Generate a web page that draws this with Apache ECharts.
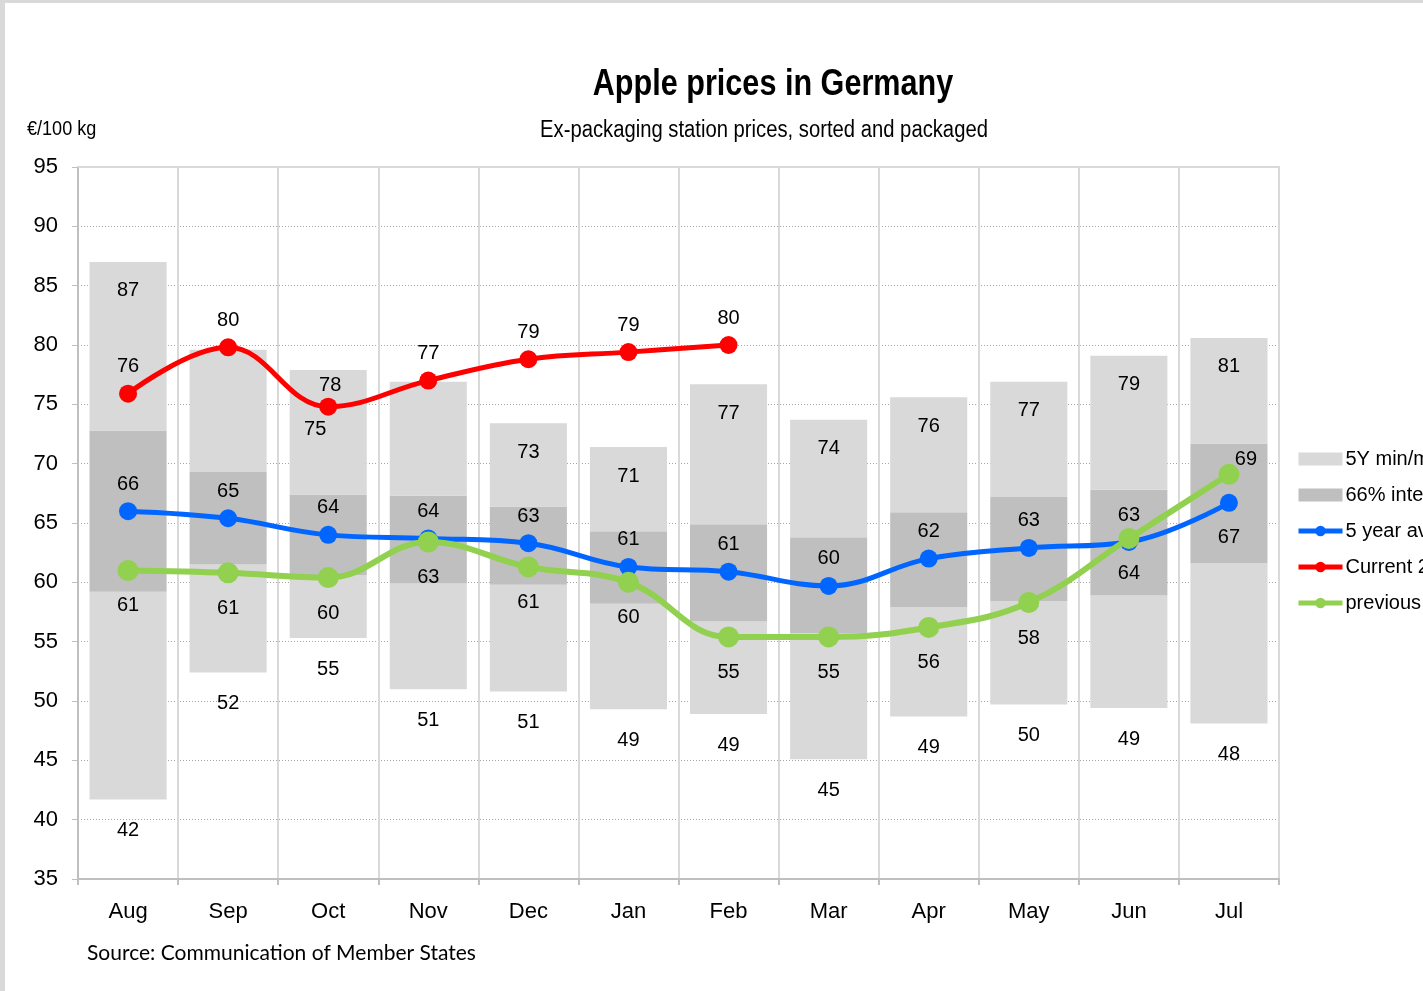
<!DOCTYPE html>
<html>
<head>
    <meta charset="utf-8">
    <title>Apple prices in Germany</title>
    <script src="https://cdn.jsdelivr.net/npm/echarts@6/dist/echarts.min.js"></script>
    <style>
        html, body { margin: 0; padding: 0; background: #d9d9d9; overflow: hidden; }
        #chart { position: absolute; left: 5px; top: 3px; width: 1418px; height: 988px; background: #fff; }
    </style>
</head>
<body>
    <div id="chart"></div>
    <script type="text/javascript">
        // months of the marketing year
        var months = ['Aug', 'Sep', 'Oct', 'Nov', 'Dec', 'Jan', 'Feb', 'Mar', 'Apr', 'May', 'Jun', 'Jul'];

        // 5 year min / max
        var minVals = [41.7, 52.4, 55.3, 51.0, 50.8, 49.3, 48.9, 45.1, 48.7, 49.7, 49.4, 48.1];
        var maxVals = [87.0, 79.6, 77.9, 76.9, 73.4, 71.4, 76.7, 73.7, 75.6, 76.9, 79.1, 80.6];
        // 66% interval
        var lowVals = [59.2, 61.5, 60.6, 59.9, 59.8, 58.2, 56.7, 55.7, 57.9, 58.4, 58.9, 61.6];
        var highVals = [72.8, 69.3, 67.4, 67.3, 66.4, 64.3, 64.9, 63.8, 65.9, 67.2, 67.8, 71.7];

        var avgVals = [66.0, 65.4, 64.0, 63.7, 63.3, 61.3, 60.9, 59.7, 62.0, 62.9, 63.4, 66.7];
        var currentVals = [75.9, 79.8, 74.8, 77.0, 78.8, 79.4, 80.0, null, null, null, null, null];
        var previousVals = [61.0, 60.8, 60.4, 63.4, 61.3, 60.0, 55.4, 55.4, 56.2, 58.3, 63.7, 69.1];

        // max labels that are hidden behind the current-year labels
        var hideMaxLabel = [1, 3];
        // where each line's value label sits
        var avgLabelPos = ['top', 'top', 'top', 'top', 'top', 'top', 'top', 'top', 'top', 'top', 'top', 'bottom'];
        var curLabelPos = ['top', 'top', 'bottomLeft', 'top', 'top', 'top', 'top'];
        var prevLabelPos = ['bottom', 'bottom', 'bottom', 'bottom', 'bottom', 'bottom', 'bottom', 'bottom', 'bottom', 'bottom', 'bottom', 'topRight'];

        var LIGHT = '#d9d9d9', DARK = '#bfbfbf';
        var BLUE = '#0066ff', RED = '#ff0000', GREEN = '#92d050';
        var ARIAL = "'Liberation Sans', Arial, sans-serif";
        var labelFont = { fontFamily: ARIAL, fontSize: 20, color: '#000' };

        function diff(a, b) { return a.map(function (v, i) { return +(v - b[i]).toFixed(2); }); }
        function round(v) { return Math.round(v); }

        function lineData(vals, pos, gap, distDown) {
            return vals.map(function (v, i) {
                if (v === null) return null;
                var p = pos[i];
                var down = p === 'bottom' || p === 'bottomLeft';
                var lbl = { position: down ? 'bottom' : 'top', distance: down ? distDown : gap };
                if (p === 'topRight') { lbl.offset = [17, 6]; }
                if (p === 'bottomLeft') { lbl.offset = [-13, 0]; lbl.distance = 4; }
                return { value: v, label: lbl };
            });
        }

        var barCommon = { type: 'bar', stack: 'range', barWidth: '77%', silent: true };

        var chart = echarts.init(document.getElementById('chart'), null, { renderer: 'canvas' });

        var option = {
            animation: false,
            backgroundColor: '#fff',
            graphic: [{
                type: 'text', x: 768, y: 82, scaleX: 0.85,
                style: { text: 'Apple prices in Germany', font: "bold 36px " + ARIAL, fill: '#000', align: 'center', verticalAlign: 'middle' }
            }, {
                type: 'text', x: 759, y: 128, scaleX: 0.88,
                style: { text: 'Ex-packaging station prices, sorted and packaged', font: "23px " + ARIAL, fill: '#000', align: 'center', verticalAlign: 'middle' }
            }, {
                type: 'text', x: 22, y: 126, scaleX: 0.86,
                style: { text: '€/100 kg', font: "21px " + ARIAL, fill: '#000', align: 'left', verticalAlign: 'middle' }
            }, {
                type: 'text', x: 82, y: 950,
                style: { text: 'Source: Communication of Member States', font: "21px Lato, 'Open Sans', sans-serif", fill: '#000', align: 'left', verticalAlign: 'middle' }
            }],
            legend: {
                orient: 'vertical', left: 1291, top: 445, padding: 0,
                itemWidth: 44, itemHeight: 13, itemGap: 14,
                textStyle: { fontFamily: ARIAL, fontSize: 20, color: '#000', lineHeight: 22, padding: [0, 0, 0, -2] },
                data: [
                    { name: '5Y min/max', icon: 'rect', itemStyle: { color: LIGHT, borderWidth: 0 } },
                    { name: '66% interval', icon: 'rect', itemStyle: { color: DARK, borderWidth: 0 } },
                    { name: '5 year average', lineStyle: { width: 5 } },
                    { name: 'Current 2019/20', lineStyle: { width: 5 } },
                    { name: 'previous 2018/19', lineStyle: { width: 5 } }
                ]
            },
            grid: { left: 73, top: 164, width: 1201, height: 712 },
            xAxis: [{
                type: 'category', data: months, boundaryGap: true,
                axisLine: { lineStyle: { color: '#bfbfbf', width: 2 } },
                axisTick: { show: true, length: 6, lineStyle: { color: '#bfbfbf', width: 2 } },
                axisLabel: { fontFamily: ARIAL, fontSize: 22, color: '#000', margin: 22 },
                splitLine: { show: true, lineStyle: { color: '#d9d9d9', width: 2 } }
            }, {
                type: 'category', data: months, position: 'top',
                axisLine: { show: true, lineStyle: { color: '#d9d9d9', width: 2 } },
                axisTick: { show: false }, axisLabel: { show: false }, splitLine: { show: false }
            }],
            yAxis: {
                type: 'value', min: 35, max: 95, interval: 5,
                axisLine: { show: true, lineStyle: { color: '#bfbfbf', width: 2 } },
                axisTick: { show: true, length: 6, lineStyle: { color: '#bfbfbf', width: 1 } },
                axisLabel: { fontFamily: ARIAL, fontSize: 22, color: '#000', margin: 20 },
                splitLine: { show: true, lineStyle: { color: '#a6a6a6', type: [1, 2], width: 1 } }
            },
            series: [
                Object.assign({}, barCommon, {
                    name: 'base', data: minVals, itemStyle: { color: 'transparent' }, legendHoverLink: false
                }),
                Object.assign({}, barCommon, {
                    name: '5Y min/max', data: diff(lowVals, minVals), itemStyle: { color: LIGHT },
                    label: Object.assign({
                        show: true, position: 'bottom', distance: 21,
                        formatter: function (p) { return round(minVals[p.dataIndex]); }
                    }, labelFont)
                }),
                Object.assign({}, barCommon, {
                    name: '66% interval', data: diff(highVals, lowVals), itemStyle: { color: DARK }
                }),
                Object.assign({}, barCommon, {
                    name: '5Y min/max',
                    data: diff(maxVals, highVals).map(function (v, i) {
                        return i === 2 ? { value: v, label: { distance: 6, offset: [2, 0] } } : v;
                    }),
                    itemStyle: { color: LIGHT },
                    label: Object.assign({
                        show: true, position: 'insideTop', distance: 19,
                        formatter: function (p) {
                            return hideMaxLabel.indexOf(p.dataIndex) >= 0 ? '' : round(maxVals[p.dataIndex]);
                        }
                    }, labelFont)
                }),
                {
                    name: '5 year average', type: 'line', smooth: 0.4, z: 5,
                    data: lineData(avgVals, avgLabelPos, 8, 16),
                    symbol: 'circle', symbolSize: 18,
                    lineStyle: { color: BLUE, width: 5 }, itemStyle: { color: BLUE },
                    label: Object.assign({ show: true, formatter: function (p) { return round(p.value); } }, labelFont)
                },
                {
                    name: 'Current 2019/20', type: 'line', smooth: 0.4, z: 6,
                    data: lineData(currentVals, curLabelPos, 8, 4),
                    symbol: 'circle', symbolSize: 18,
                    lineStyle: { color: RED, width: 5 }, itemStyle: { color: RED },
                    label: Object.assign({ show: true, formatter: function (p) { return round(p.value); } }, labelFont)
                },
                {
                    name: 'previous 2018/19', type: 'line', smooth: 0.4, z: 7,
                    data: lineData(previousVals, prevLabelPos, 0, 15),
                    symbol: 'circle', symbolSize: 21,
                    lineStyle: { color: GREEN, width: 6 }, itemStyle: { color: GREEN },
                    label: Object.assign({ show: true, formatter: function (p) { return round(p.value); } }, labelFont)
                }
            ]
        };

        chart.setOption(option);
        window.onresize = function () { chart.resize(); };
    </script>
</body>
</html>
